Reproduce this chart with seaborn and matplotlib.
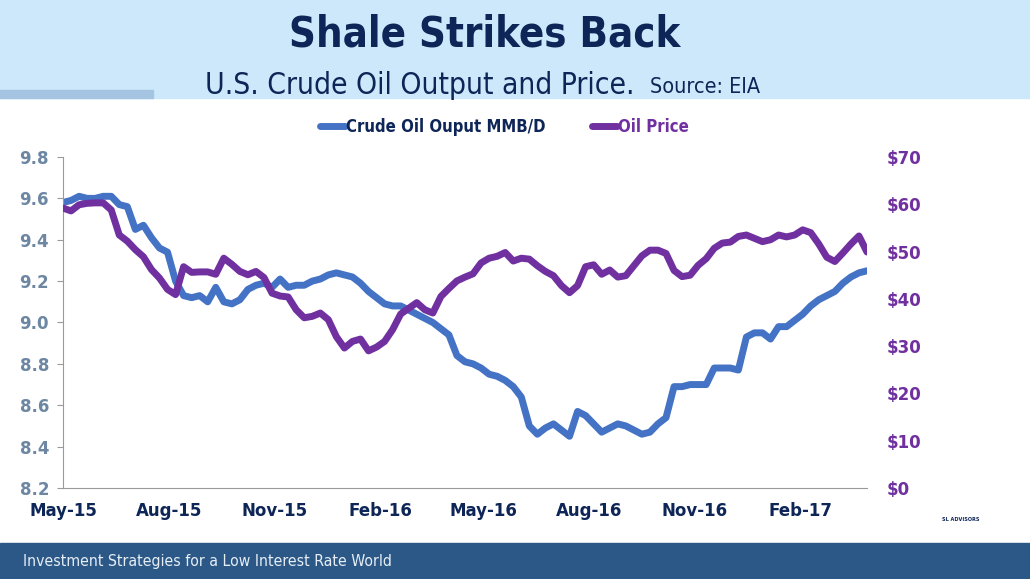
import pandas as pd
import numpy as np
import matplotlib
matplotlib.use("Agg")
import matplotlib.pyplot as plt
import matplotlib.dates as mdates
import seaborn as sns

# Weekly readings, May-2015 to end of Mar-2017
start_date = "2015-05-01"
crude_output = [
    9.58, 9.59, 9.61, 9.60, 9.60, 9.61, 9.61, 9.57, 9.56, 9.45,
    9.47, 9.41, 9.36, 9.34, 9.20, 9.13, 9.12, 9.13, 9.10, 9.17,
    9.10, 9.09, 9.11, 9.16, 9.18, 9.19, 9.17, 9.21, 9.17, 9.18,
    9.18, 9.20, 9.21, 9.23, 9.24, 9.23, 9.22, 9.19, 9.15, 9.12,
    9.09, 9.08, 9.08, 9.06, 9.04, 9.02, 9.00, 8.97, 8.94, 8.84,
    8.81, 8.80, 8.78, 8.75, 8.74, 8.72, 8.69, 8.64, 8.50, 8.46,
    8.49, 8.51, 8.48, 8.45, 8.57, 8.55, 8.51, 8.47, 8.49, 8.51,
    8.50, 8.48, 8.46, 8.47, 8.51, 8.54, 8.69, 8.69, 8.70, 8.70,
    8.70, 8.78, 8.78, 8.78, 8.77, 8.93, 8.95, 8.95, 8.92, 8.98,
    8.98, 9.01, 9.04, 9.08, 9.11, 9.13, 9.15, 9.19, 9.22, 9.24,
    9.25,
]
oil_price = [
    59.2, 58.6, 59.9, 60.2, 60.3, 60.3, 58.8, 53.5, 52.2, 50.4,
    48.9, 46.2, 44.4, 42.0, 40.9, 46.8, 45.6, 45.7, 45.7, 45.2,
    48.6, 47.3, 45.8, 45.1, 45.8, 44.5, 41.2, 40.6, 40.4, 37.7,
    36.0, 36.3, 37.0, 35.6, 32.0, 29.6, 31.0, 31.5, 29.0, 29.8,
    31.0, 33.5, 36.8, 38.0, 39.2, 37.7, 37.0, 40.5, 42.2, 43.8,
    44.6, 45.3, 47.6, 48.6, 49.0, 49.8, 48.0, 48.6, 48.4, 47.0,
    45.8, 44.9, 42.8, 41.3, 42.8, 46.8, 47.2, 45.2, 46.1, 44.6,
    44.9, 47.0, 49.1, 50.3, 50.3, 49.6, 46.0, 44.7, 45.0, 47.1,
    48.5, 50.7, 51.8, 52.0, 53.2, 53.5, 52.8, 52.1, 52.5, 53.5,
    53.1, 53.5, 54.6, 54.0, 51.6, 48.8, 47.9, 49.7, 51.6, 53.3,
    49.9,
]
tick_dates = ["2015-05-01", "2015-08-01", "2015-11-01", "2016-02-01",
              "2016-05-01", "2016-08-01", "2016-11-01", "2017-02-01"]
left_ticks = [8.2, 8.4, 8.6, 8.8, 9.0, 9.2, 9.4, 9.6, 9.8]
right_ticks = [0, 10, 20, 30, 40, 50, 60, 70]

data = pd.DataFrame({
    "Date": pd.date_range(start_date, periods=len(crude_output), freq="7D"),
    "Output": crude_output,
    "Price": oil_price,
})

blue = "#4472c4"
purple = "#7030a0"
navy = "#0e2557"
cond = ["DejaVu Sans Condensed", "DejaVu Sans"]

sns.set_style("white")
plt.rcParams["font.family"] = cond
plt.rcParams["font.stretch"] = "condensed"

fig = plt.figure(figsize=(10.3, 5.79), dpi=100)

# header band and footer band
fig.patches.append(plt.Rectangle((0, 1 - 98 / 579), 1, 98 / 579, transform=fig.transFigure,
                                 color="#cce8fa", zorder=0))
fig.patches.append(plt.Rectangle((0, 1 - 98 / 579), 153 / 1030, 8 / 579, transform=fig.transFigure,
                                 color="#a4c4e2", zorder=1))
fig.patches.append(plt.Rectangle((0, 0), 1, 36 / 579, transform=fig.transFigure,
                                 color="#2b5886", zorder=0))

fig.text(0.471, 0.94, "Shale Strikes Back", ha="center", va="center", fontsize=30,
         fontweight="bold", color=navy)
fig.text(0.199, 0.853, "U.S. Crude Oil Output and Price.", ha="left", va="center",
         fontsize=21.5, color=navy)
fig.text(0.631, 0.850, "Source: EIA", ha="left", va="center", fontsize=15.5, color=navy)
fig.text(0.022, 0.031, "Investment Strategies for a Low Interest Rate World", ha="left",
         va="center", fontsize=11.3, color="#e6eef6")

ax = fig.add_axes([63 / 1030, 1 - 488 / 579, (867 - 63) / 1030, (488 - 157) / 579])
sns.lineplot(data=data, x="Date", y="Output", ax=ax, color=blue, linewidth=5,
             label="Crude Oil Ouput MMB/D", legend=False)
ax2 = ax.twinx()
sns.lineplot(data=data, x="Date", y="Price", ax=ax2, color=purple, linewidth=5,
             label="Oil Price", legend=False)

ax.set_ylim(8.2, 9.8)
ax.set_yticks(left_ticks)
ax.set_yticklabels([f"{v:.1f}" for v in left_ticks])
ax2.set_ylim(0, 70)
ax2.set_yticks(right_ticks)
ax2.set_yticklabels([f"${v}" for v in right_ticks])
ax.set_xlim(data["Date"].iloc[0], data["Date"].iloc[-1])
ax.set_xticks(pd.to_datetime(tick_dates))
ax.xaxis.set_major_formatter(mdates.DateFormatter("%b-%y"))
ax.set_xlabel("")
ax.set_ylabel("")
ax2.set_ylabel("")

for sp in ["top", "right"]:
    ax.spines[sp].set_visible(False)
for sp in ["top", "right", "left", "bottom"]:
    ax2.spines[sp].set_visible(False)
ax.spines["left"].set_color("#9a9a9a")
ax.spines["bottom"].set_color("#9a9a9a")

ax.tick_params(axis="y", length=4, color="#9a9a9a", labelsize=12, labelcolor="#6d87a3", pad=6)
ax.tick_params(axis="x", length=4, color="#9a9a9a", labelsize=12, labelcolor=navy, pad=6)
ax2.tick_params(axis="y", length=0, labelsize=12, labelcolor=purple, pad=14)
for lbl in ax.get_xticklabels() + ax.get_yticklabels() + ax2.get_yticklabels():
    lbl.set_fontweight("bold")
    lbl.set_family(["DejaVu Sans"])
    lbl.set_stretch("normal")

handles = ax.get_lines()[:1] + ax2.get_lines()[:1]
leg = fig.legend(handles, ["Crude Oil Ouput MMB/D", "Oil Price"], loc="center",
                 bbox_to_anchor=(0.49, 1 - 127 / 579), ncol=2, frameon=False,
                 handlelength=1.5, handletextpad=0.05, columnspacing=2.8,
                 prop={"size": 12, "weight": "bold", "family": cond, "stretch": "condensed"})
leg.get_texts()[0].set_color(navy)
leg.get_texts()[1].set_color(purple)

fig.text(0.933, 0.103, "SL ADVISORS", ha="center", va="center", fontsize=4,
         color=navy, fontweight="bold")

fig.savefig("out.png", dpi=100)
